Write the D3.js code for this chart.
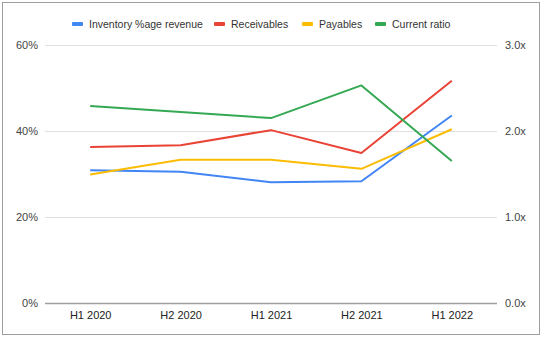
<!DOCTYPE html>
<html>
<head>
<meta charset="utf-8">
<script src="https://cdn.jsdelivr.net/npm/d3@7"></script>
<style>
  html, body { margin: 0; padding: 0; background: #fff; }
  svg { display: block; font-family: "Liberation Sans", Arial, sans-serif; }
</style>
</head>
<body>
<svg id="chart" width="544" height="338"></svg>
<script>
// Half-year periods
const periods = ["H1 2020", "H2 2020", "H1 2021", "H2 2021", "H1 2022"];

// Left axis series (% of revenue)
const inventory   = [30.9, 30.5, 28.1, 28.3, 43.6];
const receivables = [36.3, 36.7, 40.2, 34.9, 51.7];
const payables    = [29.9, 33.3, 33.3, 31.2, 40.4];

// Right axis series (ratio)
const currentRatio = [2.29, 2.22, 2.15, 2.53, 1.65];

// Tick labels
const leftTicks  = [0, 20, 40, 60];
const rightTicks = [0, 1, 2, 3];

const seriesNames  = ["Inventory %age revenue", "Receivables", "Payables", "Current ratio"];
const seriesColors = ["#4285f4", "#ea4335", "#fbbc04", "#34a853"];

const svg = d3.select("#chart");
const plot = { left: 45, right: 497, top: 45, bottom: 303 };

// Outer frame
svg.append("rect")
  .attr("x", 2.5).attr("y", 2.5)
  .attr("width", 537).attr("height", 332)
  .attr("fill", "#fff").attr("stroke", "#9e9e9e").attr("stroke-width", 1);

const x = d3.scalePoint().domain(periods).range([plot.left, plot.right]).padding(0.5);
const yL = d3.scaleLinear().domain([0, 60]).range([plot.bottom, plot.top]);
const yR = d3.scaleLinear().domain([0, 3]).range([plot.bottom, plot.top]);

// Gridlines
svg.append("g").selectAll("line")
  .data(leftTicks.filter(d => d !== 0))
  .join("line")
  .attr("x1", plot.left).attr("x2", plot.right)
  .attr("y1", d => Math.round(yL(d)) + 0.5).attr("y2", d => Math.round(yL(d)) + 0.5)
  .attr("stroke", "#e0e0e0").attr("stroke-width", 1);

// Left axis labels
const leftAxis = d3.axisLeft(yL).tickValues(leftTicks).tickFormat(d => d + "%").tickSize(0).tickPadding(7);
const gl = svg.append("g").attr("transform", `translate(${plot.left},0)`).call(leftAxis);
gl.select(".domain").remove();
gl.selectAll("text").attr("font-size", 11).attr("fill", "#444").attr("font-family", "Liberation Sans, Arial, sans-serif");

// Right axis labels
const rightAxis = d3.axisRight(yR).tickValues(rightTicks).tickFormat(d => d3.format(".1f")(d) + "x").tickSize(0).tickPadding(8);
const gr = svg.append("g").attr("transform", `translate(${plot.right},0)`).call(rightAxis);
gr.select(".domain").remove();
gr.selectAll("text").attr("font-size", 11).attr("fill", "#444").attr("font-family", "Liberation Sans, Arial, sans-serif");

// Bottom axis labels
const bottomAxis = d3.axisBottom(x).tickSize(0).tickPadding(8);
const gb = svg.append("g").attr("transform", `translate(0,${plot.bottom})`).call(bottomAxis);
gb.select(".domain").remove();
gb.selectAll("text").attr("font-size", 11).attr("fill", "#222").attr("font-family", "Liberation Sans, Arial, sans-serif");

// Baseline
svg.append("line")
  .attr("x1", plot.left).attr("x2", plot.right)
  .attr("y1", Math.round(yL(0)) + 0.5).attr("y2", Math.round(yL(0)) + 0.5)
  .attr("stroke", "#9e9e9e").attr("stroke-width", 1.5);

// Lines
const series = [
  { values: inventory, scale: yL },
  { values: receivables, scale: yL },
  { values: payables, scale: yL },
  { values: currentRatio, scale: yR }
];

series.forEach((s, i) => {
  const line = d3.line()
    .x((d, j) => x(periods[j]))
    .y(d => s.scale(d));
  svg.append("path")
    .datum(s.values)
    .attr("d", line)
    .attr("fill", "none")
    .attr("stroke", seriesColors[i])
    .attr("stroke-width", 2)
    .attr("stroke-linejoin", "round");
});

// Legend
const legendX = [72, 214, 302, 375];
const lg = svg.append("g");
seriesNames.forEach((name, i) => {
  const g = lg.append("g").attr("transform", `translate(${legendX[i]},24)`);
  g.append("rect").attr("x", 0).attr("y", -2).attr("width", 11).attr("height", 4)
    .attr("rx", 1).attr("fill", seriesColors[i]);
  g.append("text").attr("x", 17).attr("y", 4)
    .attr("font-size", 10.5).attr("fill", "#333")
    .text(name);
});
</script>
</body>
</html>
